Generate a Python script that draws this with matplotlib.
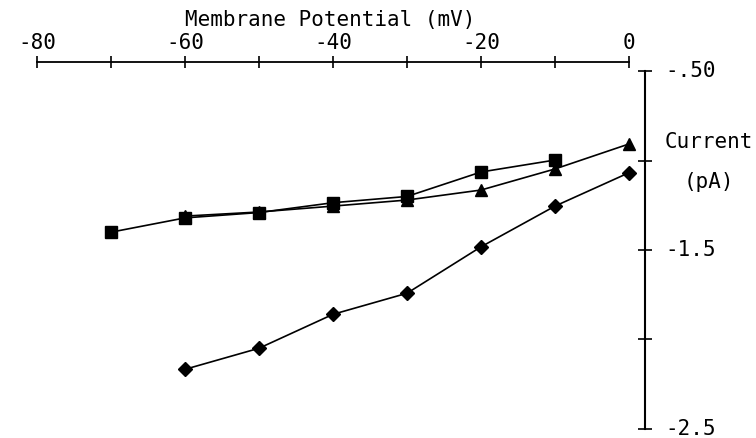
import matplotlib
matplotlib.use("Agg")
import matplotlib.pyplot as plt
import numpy as np

# Data
sq_v = [-70, -60, -50, -40, -30, -20, -10]
sq_i = [-1.40, -1.32, -1.29, -1.235, -1.20, -1.063, -0.996]
tri_v = [-60, -50, -40, -30, -20, -10, 0]
tri_i = [-1.31, -1.287, -1.254, -1.22, -1.164, -1.046, -0.906]
dia_v = [-60, -50, -40, -30, -20, -10, 0]
dia_i = [-2.168, -2.05, -1.86, -1.742, -1.482, -1.254, -1.067]

xticks = [-80, -70, -60, -50, -40, -30, -20, -10, 0]
xticklabels = ["-80", "", "-60", "", "-40", "", "-20", "", "0"]
yticks = [-0.5, -1.0, -1.5, -2.0, -2.5]
yticklabels = ["-.50", "", "-1.5", "", "-2.5"]

W, H = 756, 438
fig = plt.figure(figsize=(W / 100, H / 100), dpi=100)
left, right, top, bottom = 37, 645, 62, 428.6
ax = fig.add_axes([left / W, 1 - bottom / H, (right - left) / W, (bottom - top) / H])
ax.set_xlim(-80, 2.16)
ax.set_ylim(-2.5, -0.447)

font = "DejaVu Sans Mono"
fs = 15

lw = 1.2
ax.plot(sq_v, sq_i, color="black", lw=lw, marker="s", ms=8.5, clip_on=False, zorder=3)
ax.plot(tri_v, tri_i, color="black", lw=lw, marker="^", ms=9, clip_on=False, zorder=3)
ax.plot(dia_v, dia_i, color="black", lw=lw, marker="D", ms=7.5, clip_on=False, zorder=3)

for s in ["left", "bottom"]:
    ax.spines[s].set_visible(False)
ax.spines["top"].set_bounds(-80, 0)
ax.spines["right"].set_bounds(-2.5, -0.5)
ax.spines["top"].set_linewidth(1.3)
ax.spines["right"].set_linewidth(1.5)

ax.xaxis.set_ticks_position("top")
ax.yaxis.set_ticks_position("right")
ax.set_xticks(xticks)
ax.set_xticklabels(xticklabels, fontfamily=font, fontsize=fs)
ax.set_yticks(yticks)
ax.set_yticklabels(yticklabels, fontfamily=font, fontsize=fs)
ax.tick_params(axis="x", direction="inout", length=8, width=1.2, pad=2.5)
ax.tick_params(axis="y", direction="inout", length=10, width=1.2, pad=10)
for lab in ax.get_yticklabels():
    lab.set_verticalalignment("center")

fig.text(330 / W, 1 - 20 / H, "Membrane Potential (mV)", ha="center", va="center",
         fontfamily=font, fontsize=fs)
fig.text(665 / W, 1 - 142 / H, "Current", ha="left", va="center",
         fontfamily=font, fontsize=fs)
fig.text(709 / W, 1 - 182 / H, "(pA)", ha="center", va="center",
         fontfamily=font, fontsize=fs)

fig.savefig("out.png", dpi=100)
